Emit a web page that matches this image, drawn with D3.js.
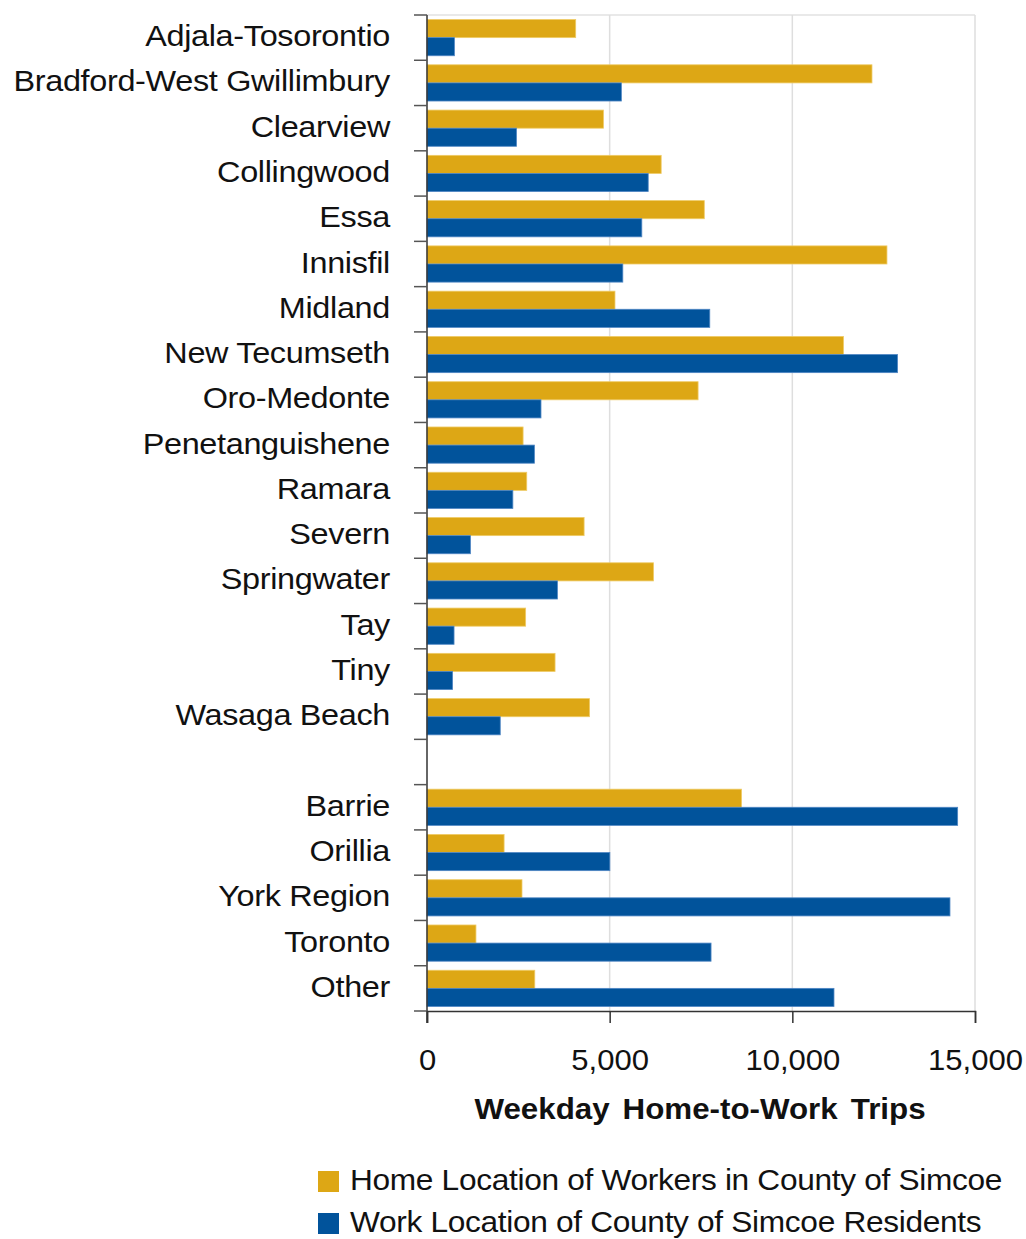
<!DOCTYPE html>
<html>
<head>
<meta charset="utf-8">
<script src="https://cdn.jsdelivr.net/npm/d3@7/dist/d3.min.js"></script>
<style>
  html, body { margin: 0; padding: 0; background: #fff; }
  svg { display: block; }
  text { font-family: "Liberation Sans", Arial, Helvetica, sans-serif; fill: #111; }
</style>
</head>
<body>
<svg id="chart" width="1026" height="1239"></svg>
<script>
// Simcoe County municipalities, then the separated cities / regions
const municipalities = [
  "Adjala-Tosorontio", "Bradford-West Gwillimbury", "Clearview", "Collingwood",
  "Essa", "Innisfil", "Midland", "New Tecumseth", "Oro-Medonte",
  "Penetanguishene", "Ramara", "Severn", "Springwater", "Tay", "Tiny",
  "Wasaga Beach"
];
const externalAreas = ["Barrie", "Orillia", "York Region", "Toronto", "Other"];

// Home location of workers in County of Simcoe (trips)
const homeTrips = [
  4070, 12180, 4830, 6410, 7590, 12590, 5145, 11400, 7420,
  2630, 2730, 4300, 6200, 2700, 3505, 4450,
  8610, 2110, 2600, 1340, 2950
];
// Work location of County of Simcoe residents (trips)
const workTrips = [
  750, 5320, 2450, 6055, 5880, 5360, 7740, 12880, 3120,
  2940, 2350, 1190, 3570, 740, 700, 2005,
  14525, 5005, 14315, 7775, 11140
];

const xTicks = [0, 5000, 10000, 15000];
const seriesNames = [
  "Home Location of Workers in County of Simcoe",
  "Work Location of County of Simcoe Residents"
];
const seriesColors = ["#DDA715", "#01539B"];
const seriesStroke = ["#EFCB66", "#4F86C4"];

const categories = municipalities.concat(externalAreas);
const rows = categories.map((name, i) => ({ name, home: homeTrips[i], work: workTrips[i] }));
const spacer = "__gap__";
const yDomain = municipalities.concat([spacer], externalAreas);

const svg = d3.select("#chart");
const plotLeft = 427, plotRight = 975, plotTop = 15, plotBottom = 1011;
// the typeface is set a little wider than the stock sans
const stretch = 1.08;

const x = d3.scaleLinear().domain([0, 15000]).range([plotLeft, plotRight]);
const y = d3.scaleBand().domain(yDomain).range([plotTop, plotBottom]).paddingInner(0).paddingOuter(0);
const ySub = d3.scaleBand().domain(["home", "work"]).range([0, y.bandwidth()])
  .paddingInner(0).paddingOuter(0.25);

// plot frame: light top edge and vertical gridlines
svg.append("line").attr("x1", plotLeft).attr("x2", plotRight).attr("y1", plotTop).attr("y2", plotTop)
  .attr("stroke", "#e2e2e2").attr("stroke-width", 1.5);
svg.append("g").selectAll("line").data(xTicks.slice(1)).join("line")
  .attr("x1", d => x(d)).attr("x2", d => x(d))
  .attr("y1", plotTop).attr("y2", plotBottom)
  .attr("stroke", "#dedede").attr("stroke-width", 1.5);

// bars
const groups = svg.append("g").selectAll("g").data(rows).join("g")
  .attr("transform", d => `translate(0,${y(d.name)})`);
["home", "work"].forEach((key, k) => {
  groups.append("rect")
    .attr("x", x(0))
    .attr("y", ySub(key))
    .attr("width", d => x(d[key]) - x(0))
    .attr("height", ySub.bandwidth())
    .attr("fill", seriesColors[k])
    .attr("stroke", seriesStroke[k])
    .attr("stroke-width", 0.8);
});

// category axis: line, boundary ticks, centred labels
const yAxis = svg.append("g");
yAxis.append("line").attr("x1", plotLeft).attr("x2", plotLeft).attr("y1", plotTop).attr("y2", plotBottom + 12)
  .attr("stroke", "#333").attr("stroke-width", 1.5);
const boundaries = yDomain.map(d => y(d)).concat([plotBottom]);
yAxis.selectAll("line.tick").data(boundaries).join("line").attr("class", "tick")
  .attr("x1", plotLeft - 13).attr("x2", plotLeft)
  .attr("y1", d => d).attr("y2", d => d)
  .attr("stroke", "#555").attr("stroke-width", 1.5);
yAxis.selectAll("text").data(yDomain.filter(d => d !== spacer)).join("text")
  .attr("transform", d => `translate(390,${y(d) + y.bandwidth() / 2 - 1.5}) scale(${stretch},1)`)
  .attr("text-anchor", "end")
  .attr("dominant-baseline", "central")
  .attr("font-size", 30)
  .attr("letter-spacing", -0.3)
  .text(d => d);

// value axis
const xAxis = svg.append("g").attr("transform", `translate(0,${plotBottom})`)
  .call(d3.axisBottom(x).tickValues(xTicks).tickSize(12).tickFormat(d3.format(",")));
xAxis.select(".domain").attr("stroke", "#333").attr("stroke-width", 1.5);
xAxis.selectAll(".tick line").attr("stroke", "#333").attr("stroke-width", 1.5);
xAxis.selectAll(".tick text")
  .attr("y", 0).attr("dy", 0)
  .attr("transform", `translate(0,59) scale(1.07,1)`)
  .attr("font-size", 29)
  .attr("font-family", "Liberation Sans, Arial, sans-serif")
  .attr("fill", "#111");

svg.append("text")
  .attr("transform", `translate(700,1119) scale(${stretch},1)`)
  .attr("text-anchor", "middle")
  .attr("font-size", 29).attr("font-weight", "bold")
  .attr("word-spacing", 4)
  .text("Weekday Home-to-Work Trips");

// legend
const legend = svg.append("g").selectAll("g").data(seriesNames).join("g")
  .attr("transform", (d, i) => `translate(318,${1171 + i * 42})`);
legend.append("rect").attr("width", 21).attr("height", 21)
  .attr("fill", (d, i) => seriesColors[i]);
legend.append("text")
  .attr("transform", "translate(32,19) scale(1.055,1)")
  .attr("font-size", 30).attr("letter-spacing", -0.3)
  .text(d => d);
</script>
</body>
</html>
